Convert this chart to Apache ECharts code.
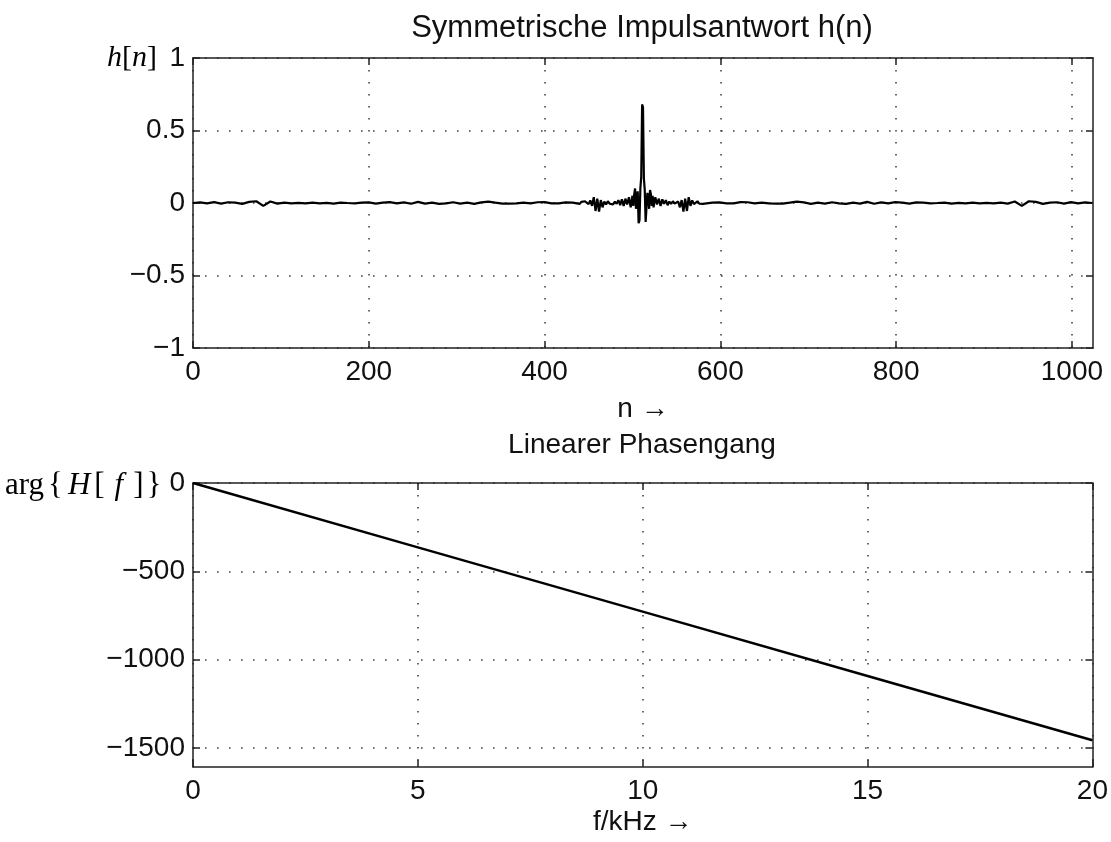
<!DOCTYPE html>
<html><head><meta charset="utf-8">
<script src="https://cdn.jsdelivr.net/npm/echarts@6/dist/echarts.min.js"></script>
<style>html,body{margin:0;padding:0;background:#fff}#c{width:1111px;height:842px}</style>
</head><body><div id="c"></div>
<script>
// ---- data ----
// impulse response h[n], in segments of different sampling density
const hLeft = [0.000, 0.004, -0.003, 0.006, -0.004, 0.005, 0.002, -0.006, 0.008, 0.012,
  -0.020, 0.010, -0.004, 0.003, -0.002, 0.001, -0.003, 0.002, -0.002, 0.001,
  -0.004, 0.003, 0.000, -0.002, 0.003, 0.004, -0.004, 0.003, 0.006, -0.003,
  0.004, -0.005, 0.008, -0.004, 0.002, -0.006, -0.003, 0.005, -0.004, 0.002,
  -0.006, 0.004, 0.010, 0.002, -0.004, -0.004, -0.003, 0.002, -0.002, 0.005,
  0.006, -0.003, -0.002, 0.004, 0.003];              // n = 0 .. 432, step 8
const hMidLeft = [-0.006, 0.008, -0.004, 0.012, 0.004, -0.008, 0.018, -0.020, 0.040, -0.055,
  0.030, -0.060, 0.020, -0.030, 0.010, -0.010, 0.012, -0.004, 0.006, -0.010,
  0.010, -0.006, 0.020, -0.015, 0.025, -0.020, 0.030, -0.010, 0.040, -0.030]; // n = 440 .. 498, step 2
const hCenter = [0.050, -0.020, 0.060, 0.100, -0.040, 0.040, 0.080, -0.140, -0.120, 0.100,
  0.180, 0.680, 0.660, 0.170, 0.090, -0.130, -0.140, 0.070, 0.040, -0.040,
  0.090, 0.060, -0.020, 0.050];                       // n = 500 .. 523, step 1
const hMidRight = [-0.030, 0.040, -0.010, 0.030, -0.020, 0.025, -0.006, 0.020, -0.015, 0.010,
  -0.006, 0.012, -0.004, -0.010, 0.010, -0.030, 0.020, -0.060, 0.030, -0.055,
  0.040, -0.020, 0.018, -0.008, 0.004, 0.012, -0.004, 0.008, -0.006, 0.003]; // n = 524 .. 582, step 2
const hRight = [0.003, 0.004, -0.002, -0.003, 0.006, 0.005, -0.002, 0.002, -0.003, -0.004,
  -0.004, 0.002, 0.010, 0.004, -0.006, 0.002, -0.004, 0.005, -0.003, -0.006,
  0.002, -0.004, 0.008, -0.005, 0.004, -0.003, 0.006, 0.003, -0.004, 0.004,
  0.003, -0.002, 0.000, 0.003, -0.004, 0.001, -0.002, 0.002, -0.003, 0.001,
  -0.002, 0.003, -0.004, 0.010, -0.020, 0.012, 0.008, -0.006, 0.002, 0.005,
  -0.004, 0.006, -0.003, 0.004, 0.000];              // n = 591 .. 1023, step 8

// phase response
const fKHz  = [0, 5, 10, 15, 20];
const phase = [0, -364, -728, -1092, -1456];

// tick labels
const nTicks  = [0, 200, 400, 600, 800, 1000];
const hTicks  = [-1, -0.5, 0, 0.5, 1];
const fTicks  = [0, 5, 10, 15, 20];
const phTicks = [-1500, -1000, -500, 0];

// ---- build ----
function seg(n0, step, vals) { return vals.map((v, i) => [n0 + i * step, v]); }
const hData = [].concat(seg(0, 8, hLeft), seg(440, 2, hMidLeft), seg(500, 1, hCenter),
                        seg(524, 2, hMidRight), seg(591, 8, hRight));
const phData = fKHz.map((f, i) => [f, phase[i]]);

const FONT = '"Liberation Sans", Arial, Helvetica, sans-serif';
const SERIF = '"Liberation Serif", "Times New Roman", serif';
const minus = v => String(v).replace('-', '\u2212');

function axis(gridIndex, position, min, max, ticks, primary, extra) {
  return Object.assign({
    type: 'value', gridIndex: gridIndex, position: position, min: min, max: max,
    axisLine: { show: true, onZero: false, lineStyle: { color: '#222', width: 1.5 } },
    axisTick: { show: true, inside: true, length: 7, customValues: ticks,
                lineStyle: { color: '#222', width: 1.5 } },
    axisLabel: { show: primary, customValues: ticks, color: '#111', fontSize: 28,
                 fontFamily: FONT, margin: (position === 'left' ? 8 : 10),
                 formatter: v => minus(v) },
    splitLine: { show: primary, lineStyle: { color: '#444', width: 1.6, type: [1.6, 10.4] } }
  }, extra || {});
}

const chart = echarts.init(document.getElementById('c'), null, { renderer: 'canvas' });
chart.setOption({
  animation: false,
  backgroundColor: '#fff',
  grid: [
    { left: 193, right: 18, top: 58, height: 290 },
    { left: 193, right: 18, top: 483, height: 284 }
  ],
  xAxis: [
    axis(0, 'bottom', 0, 1024, nTicks, true, {
      name: 'n \u2192', nameLocation: 'middle', nameGap: 47,
      nameTextStyle: { fontSize: 28, fontFamily: FONT, color: '#111' } }),
    axis(0, 'top', 0, 1024, nTicks, false),
    axis(1, 'bottom', 0, 20, fTicks, true, {
      name: 'f/kHz \u2192', nameLocation: 'middle', nameGap: 41,
      nameTextStyle: { fontSize: 28, fontFamily: FONT, color: '#111' } }),
    axis(1, 'top', 0, 20, fTicks, false)
  ],
  yAxis: [
    axis(0, 'left', -1, 1, hTicks, true),
    axis(0, 'right', -1, 1, hTicks, false),
    axis(1, 'left', -1607, 0, phTicks, true),
    axis(1, 'right', -1607, 0, phTicks, false)
  ],
  series: [
    { type: 'line', xAxisIndex: 0, yAxisIndex: 0, data: hData, showSymbol: false,
      lineStyle: { color: '#000', width: 2.2 }, z: 5 },
    { type: 'line', xAxisIndex: 2, yAxisIndex: 2, data: phData, showSymbol: false,
      lineStyle: { color: '#000', width: 2.5 }, z: 5 }
  ],
  graphic: [
    { type: 'text', x: 642, y: 28, style: { text: 'Symmetrische Impulsantwort h(n)',
      font: '31px ' + FONT, fill: '#111', align: 'center', verticalAlign: 'middle' } },
    { type: 'text', x: 642, y: 445, style: { text: 'Linearer Phasengang',
      font: '28px ' + FONT, fill: '#111', align: 'center', verticalAlign: 'middle' } },
    { type: 'text', x: 157, y: 58, style: {
      text: '{i|h}{r|[}{i|n}{r|]}', align: 'right', verticalAlign: 'middle',
      rich: { i: { fontFamily: SERIF, fontStyle: 'italic', fontSize: 30, fill: '#000' },
              r: { fontFamily: SERIF, fontSize: 30, fill: '#000' } } } },
    { type: 'text', x: 5, y: 486, style: {
      text: '{r|arg}{b|{}{h|H}{r|[}{f|f}{c|]}}', align: 'left', verticalAlign: 'middle',
      font: '31px ' + SERIF, fill: '#000',
      rich: { r: { fontFamily: SERIF, fontSize: 31, fill: '#000' },
              b: { fontFamily: SERIF, fontSize: 31, fill: '#000', padding: [0, 3, 0, 4] },
              c: { fontFamily: SERIF, fontSize: 31, fill: '#000', padding: [0, 3, 0, 0] },
              h: { fontFamily: SERIF, fontStyle: 'italic', fontSize: 31, fill: '#000', padding: [0, 4, 0, 2] },
              f: { fontFamily: SERIF, fontStyle: 'italic', fontSize: 31, fill: '#000', padding: [0, 10, 0, 10] } } } }
  ]
});
</script>
</body></html>
